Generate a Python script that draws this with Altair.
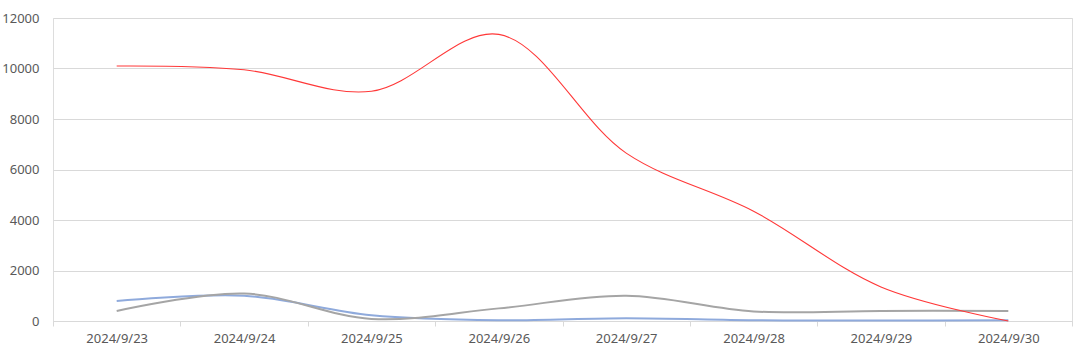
import altair as alt
import pandas as pd

dates = ["2024/9/23", "2024/9/24", "2024/9/25", "2024/9/26",
         "2024/9/27", "2024/9/28", "2024/9/29", "2024/9/30"]
series_names = ["系列1", "系列2", "系列3"]
red_vals = [10100, 9950, 9100, 11350, 6650, 4350, 1350, 0]
blue_vals = [790, 1000, 230, 30, 110, 30, 20, 30]
gray_vals = [400, 1090, 80, 500, 1000, 380, 400, 400]
colors = ["#8FAADC", "#A5A5A5", "#FF3838"]
widths = [2, 2, 1.1]

FONT = "Noto Sans"

x_enc = alt.X("date:N", sort=dates, bandPosition=0.5,
              scale=alt.Scale(type="band", paddingInner=0, paddingOuter=0),
              axis=alt.Axis(title=None, labelAngle=0, grid=False, tickBand="extent",
                            domainColor="#D9D9D9", tickColor="#D9D9D9", tickSize=5,
                            labelColor="#595959", labelFont=FONT, labelFontSize=13,
                            labelPadding=6))
y_enc = alt.Y("value:Q", scale=alt.Scale(domain=[0, 12000], nice=False),
              axis=alt.Axis(title=None, values=[0, 2000, 4000, 6000, 8000, 10000, 12000],
                            domain=False, ticks=False, gridColor="#D9D9D9", gridWidth=1,
                            labelColor="#595959", labelFont=FONT, labelFontSize=13,
                            labelPadding=14, format="d"))

layers = []
for name, vals, col, w in zip(series_names, [blue_vals, gray_vals, red_vals], colors, widths):
    df = pd.DataFrame({"date": dates, "value": vals, "series": name})
    layers.append(
        alt.Chart(df).mark_line(interpolate="catmull-rom", color=col, strokeWidth=w)
        .encode(x=x_enc, y=y_enc)
    )

chart = alt.layer(*layers).properties(
    width=1019, height=303,
    autosize=alt.AutoSizeParams(type="none"),
    padding={"left": 53, "top": 18, "right": 8, "bottom": 35},
).configure_view(stroke=None).configure(background="white")

chart.save("out.html", embed_options={"renderer": "svg", "actions": False})
